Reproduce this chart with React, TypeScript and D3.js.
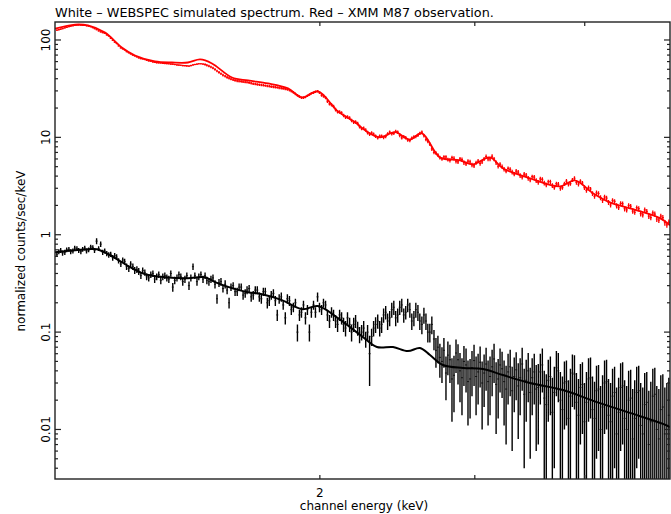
import React from 'react'
import * as d3 from 'd3'

// channel energies (keV), shared by both spectra
const energy = [
  1.005, 1.010, 1.015, 1.020, 1.026, 1.031, 1.037, 1.042, 1.048, 1.053, 1.059, 1.064, 1.070, 1.075, 1.081, 1.086, 1.092, 1.098, 1.104, 1.109,
  1.115, 1.121, 1.127, 1.133, 1.139, 1.145, 1.151, 1.157, 1.163, 1.169, 1.175, 1.181, 1.188, 1.194, 1.200, 1.206, 1.213, 1.219, 1.226, 1.232,
  1.239, 1.245, 1.252, 1.258, 1.265, 1.271, 1.278, 1.285, 1.292, 1.298, 1.305, 1.312, 1.319, 1.326, 1.333, 1.340, 1.347, 1.354, 1.361, 1.368,
  1.376, 1.383, 1.390, 1.397, 1.405, 1.412, 1.420, 1.427, 1.435, 1.442, 1.450, 1.457, 1.465, 1.473, 1.481, 1.488, 1.496, 1.504, 1.512, 1.520,
  1.528, 1.536, 1.544, 1.552, 1.561, 1.569, 1.577, 1.585, 1.594, 1.602, 1.611, 1.619, 1.628, 1.636, 1.645, 1.653, 1.662, 1.671, 1.680, 1.689,
  1.698, 1.707, 1.716, 1.725, 1.734, 1.743, 1.752, 1.761, 1.771, 1.780, 1.789, 1.798, 1.808, 1.817, 1.827, 1.837, 1.847, 1.856, 1.866, 1.876,
  1.886, 1.896, 1.906, 1.916, 1.926, 1.936, 1.946, 1.956, 1.967, 1.977, 1.988, 1.998, 2.009, 2.019, 2.030, 2.040, 2.051, 2.062, 2.073, 2.084,
  2.095, 2.106, 2.117, 2.128, 2.139, 2.150, 2.162, 2.173, 2.185, 2.196, 2.208, 2.219, 2.231, 2.243, 2.255, 2.266, 2.278, 2.290, 2.302, 2.314,
  2.327, 2.339, 2.351, 2.363, 2.376, 2.388, 2.401, 2.414, 2.427, 2.439, 2.452, 2.465, 2.478, 2.491, 2.504, 2.517, 2.531, 2.544, 2.558, 2.571,
  2.585, 2.598, 2.612, 2.626, 2.640, 2.653, 2.667, 2.681, 2.696, 2.710, 2.724, 2.738, 2.753, 2.767, 2.782, 2.796, 2.811, 2.826, 2.841, 2.856,
  2.871, 2.886, 2.901, 2.916, 2.932, 2.947, 2.963, 2.978, 2.994, 3.010, 3.026, 3.042, 3.058, 3.074, 3.090, 3.106, 3.122, 3.139, 3.155, 3.172,
  3.189, 3.205, 3.222, 3.239, 3.256, 3.273, 3.291, 3.308, 3.326, 3.343, 3.361, 3.378, 3.396, 3.414, 3.432, 3.450, 3.468, 3.486, 3.505, 3.523,
  3.542, 3.561, 3.580, 3.598, 3.617, 3.636, 3.656, 3.675, 3.694, 3.714, 3.733, 3.753, 3.773, 3.793, 3.813, 3.833, 3.853, 3.873, 3.894, 3.914,
  3.935, 3.955, 3.976, 3.997, 4.018, 4.040, 4.061, 4.082, 4.104, 4.125, 4.147, 4.169, 4.191, 4.213, 4.235, 4.257, 4.280, 4.302, 4.325, 4.348,
  4.371, 4.394, 4.417, 4.440, 4.464, 4.487, 4.511, 4.535, 4.559, 4.583, 4.607, 4.631, 4.656, 4.680, 4.705, 4.730, 4.755, 4.780, 4.805, 4.830,
  4.856, 4.881, 4.907, 4.933, 4.959, 4.985,
]

// WEBSPEC simulated spectrum (black)
const simCounts = [
  0.63, 0.67, 0.69, 0.65, 0.66, 0.70, 0.71, 0.67, 0.68, 0.73, 0.72, 0.69, 0.67, 0.71, 0.73, 0.68, 0.70, 0.75, 0.74, 0.69,
  0.86, 0.72, 0.80, 0.66, 0.68, 0.64, 0.62, 0.63, 0.58, 0.61, 0.59, 0.54, 0.50, 0.55, 0.53, 0.47, 0.45, 0.50, 0.47, 0.43,
  0.44, 0.42, 0.38, 0.43, 0.41, 0.37, 0.36, 0.39, 0.40, 0.35, 0.37, 0.39, 0.34, 0.37, 0.38, 0.36, 0.35, 0.40, 0.29, 0.34,
  0.36, 0.39, 0.37, 0.33, 0.35, 0.38, 0.30, 0.36, 0.47, 0.38, 0.33, 0.37, 0.39, 0.35, 0.38, 0.34, 0.33, 0.35, 0.36, 0.31,
  0.22, 0.32, 0.33, 0.28, 0.31, 0.27, 0.20, 0.29, 0.30, 0.26, 0.26, 0.29, 0.29, 0.24, 0.25, 0.27, 0.28, 0.23, 0.24, 0.27,
  0.27, 0.23, 0.22, 0.26, 0.26, 0.20, 0.21, 0.24, 0.25, 0.21, 0.15, 0.22, 0.23, 0.19, 0.14, 0.22, 0.21, 0.17, 0.18, 0.20,
  0.10, 0.15, 0.16, 0.19, 0.14, 0.17, 0.10, 0.16, 0.19, 0.16, 0.23, 0.18, 0.17, 0.20, 0.19, 0.15, 0.13, 0.16, 0.15, 0.13,
  0.12, 0.15, 0.14, 0.12, 0.11, 0.14, 0.12, 0.10, 0.12, 0.13, 0.11, 0.095, 0.10, 0.11, 0.085, 0.10, 0.06, 0.09, 0.11, 0.12,
  0.13, 0.11, 0.12, 0.15, 0.16, 0.13, 0.14, 0.17, 0.18, 0.14, 0.15, 0.18, 0.19, 0.15, 0.16, 0.19, 0.17, 0.13, 0.14, 0.17,
  0.16, 0.13, 0.12, 0.15, 0.13, 0.10, 0.10, 0.12, 0.085, 0.065, 0.07, 0.055, 0.05, 0.065, 0.038, 0.058, 0.052, 0.033, 0.036, 0.061,
  0.052, 0.040, 0.034, 0.050, 0.046, 0.031, 0.033, 0.043, 0.051, 0.035, 0.039, 0.049, 0.030, 0.038, 0.047, 0.031, 0.035, 0.044, 0.053, 0.029,
  0.033, 0.046, 0.042, 0.031, 0.026, 0.039, 0.044, 0.025, 0.035, 0.041, 0.028, 0.034, 0.047, 0.023, 0.032, 0.040, 0.024, 0.034, 0.039, 0.026,
  0.027, 0.039, 0.046, 0.021, 0.018, 0.032, 0.035, 0.015, 0.024, 0.043, 0.040, 0.020, 0.016, 0.030, 0.031, 0.013, 0.022, 0.038, 0.037, 0.019,
  0.014, 0.027, 0.029, 0.012, 0.019, 0.033, 0.034, 0.016, 0.013, 0.025, 0.026, 0.010, 0.017, 0.030, 0.031, 0.014, 0.012, 0.022, 0.024, 0.009,
  0.015, 0.027, 0.028, 0.013, 0.010, 0.020, 0.021, 0.008, 0.013, 0.024, 0.025, 0.011, 0.009, 0.018, 0.019, 0.007, 0.012, 0.022, 0.023, 0.010,
  0.008, 0.016, 0.017, 0.009, 0.011, 0.014,
]
const simErr = [
  0.04, 0.04, 0.04, 0.04, 0.04, 0.04, 0.04, 0.04, 0.04, 0.04, 0.04, 0.04, 0.04, 0.04, 0.04, 0.04, 0.04, 0.04, 0.04, 0.04,
  0.06, 0.04, 0.05, 0.04, 0.04, 0.04, 0.04, 0.04, 0.04, 0.04, 0.04, 0.035, 0.035, 0.035, 0.035, 0.035, 0.035, 0.035, 0.035, 0.035,
  0.035, 0.035, 0.03, 0.03, 0.03, 0.03, 0.03, 0.03, 0.03, 0.03, 0.03, 0.03, 0.03, 0.03, 0.03, 0.03, 0.03, 0.03, 0.03, 0.03,
  0.03, 0.03, 0.03, 0.03, 0.03, 0.03, 0.03, 0.03, 0.035, 0.03, 0.03, 0.03, 0.03, 0.03, 0.03, 0.03, 0.03, 0.03, 0.03, 0.03,
  0.025, 0.03, 0.03, 0.025, 0.03, 0.025, 0.025, 0.025, 0.025, 0.025, 0.025, 0.025, 0.025, 0.025, 0.025, 0.025, 0.025, 0.025, 0.025, 0.025,
  0.025, 0.025, 0.025, 0.025, 0.025, 0.025, 0.025, 0.025, 0.025, 0.025, 0.02, 0.025, 0.025, 0.02, 0.02, 0.025, 0.025, 0.02, 0.02, 0.02,
  0.02, 0.02, 0.02, 0.02, 0.02, 0.02, 0.02, 0.02, 0.02, 0.02, 0.025, 0.02, 0.02, 0.02, 0.02, 0.02, 0.02, 0.02, 0.02, 0.02,
  0.02, 0.02, 0.02, 0.02, 0.02, 0.02, 0.02, 0.02, 0.02, 0.02, 0.018, 0.018, 0.018, 0.02, 0.016, 0.018, 0.032, 0.018, 0.02, 0.022,
  0.022, 0.02, 0.022, 0.025, 0.025, 0.025, 0.025, 0.03, 0.03, 0.025, 0.025, 0.03, 0.03, 0.025, 0.025, 0.03, 0.03, 0.025, 0.025, 0.03,
  0.03, 0.025, 0.025, 0.028, 0.025, 0.022, 0.022, 0.025, 0.02, 0.022, 0.022, 0.021, 0.02, 0.022, 0.018, 0.022, 0.022, 0.021, 0.021, 0.023,
  0.023, 0.021, 0.02, 0.022, 0.022, 0.02, 0.02, 0.021, 0.023, 0.021, 0.021, 0.022, 0.02, 0.021, 0.022, 0.02, 0.021, 0.022, 0.023, 0.02,
  0.02, 0.022, 0.021, 0.02, 0.019, 0.021, 0.022, 0.019, 0.02, 0.021, 0.02, 0.02, 0.022, 0.019, 0.02, 0.021, 0.019, 0.02, 0.021, 0.02,
  0.02, 0.021, 0.022, 0.019, 0.019, 0.02, 0.021, 0.019, 0.02, 0.021, 0.021, 0.019, 0.019, 0.02, 0.02, 0.019, 0.02, 0.021, 0.021, 0.019,
  0.019, 0.02, 0.02, 0.018, 0.02, 0.021, 0.021, 0.019, 0.018, 0.02, 0.02, 0.018, 0.019, 0.021, 0.021, 0.019, 0.018, 0.02, 0.02, 0.018,
  0.019, 0.021, 0.021, 0.019, 0.018, 0.02, 0.02, 0.018, 0.019, 0.02, 0.02, 0.019, 0.018, 0.02, 0.02, 0.018, 0.019, 0.02, 0.02, 0.018,
  0.018, 0.02, 0.02, 0.018, 0.019, 0.02,
]
const simModelE = [1.0, 1.026, 1.09, 1.116, 1.161, 1.223, 1.266, 1.334, 1.416, 1.48, 1.52, 1.589, 1.657, 1.719, 1.811, 1.909, 1.99, 2.097, 2.164, 2.239, 2.322, 2.422, 2.518, 2.599, 2.668, 2.76, 2.909, 3.064, 3.228, 3.467, 3.778, 4.13, 4.502, 4.909, 5.0]
const simModelV = [0.662, 0.678, 0.71, 0.71, 0.601, 0.453, 0.393, 0.366, 0.358, 0.366, 0.326, 0.283, 0.257, 0.245, 0.213, 0.172, 0.185, 0.139, 0.1125, 0.0889, 0.0702, 0.0702, 0.0638, 0.0686, 0.0581, 0.0459, 0.0428, 0.0418, 0.0362, 0.03, 0.0254, 0.0191, 0.0148, 0.0114, 0.0106]

// XMM M87 observation (red)
const obsCounts = [
  126, 127.5, 129, 131, 133, 135, 137, 138.5, 140, 141, 142, 142.5, 142, 141.5, 141, 140, 139, 137, 134, 131,
  128, 124, 121, 119, 117, 113, 110, 104, 99, 95, 92, 87, 83, 81, 79, 76, 74, 72, 70, 68.5,
  67, 65.5, 64.5, 64, 63, 62, 61, 60.5, 59.5, 59, 58.5, 58.3, 58, 57.6, 57.5, 57.3, 57, 56.6, 56.5, 56,
  55.5, 55.3, 55, 54.6, 54.5, 54.2, 54, 54.6, 55.5, 56, 56.5, 57, 57, 56.6, 56, 55, 54, 52.8, 51.5, 49.8,
  48, 46.5, 45, 43.6, 42.5, 41.4, 40.5, 39.7, 39, 38.5, 38, 37.8, 37.5, 37.2, 37, 36.8, 36.5, 36, 35.5, 35.3,
  35, 34.7, 34.5, 34.3, 34, 33.7, 33.5, 33.2, 33, 32.8, 32.5, 32.2, 32, 31.7, 31.5, 31, 30.5, 29.8, 29, 28,
  27, 26.2, 25.5, 25.6, 26, 26.8, 27.5, 28.3, 28.8, 29.4, 29.8, 28.7, 27.2, 26.6, 25.6, 23.6, 22.1, 21.6, 20.8, 19.3,
  18.3, 18.2, 17.8, 16.8, 16.1, 16.2, 15.8, 14.9, 14.3, 14.4, 13.9, 12.9, 12.3, 12.4, 11.9, 11.2, 10.8, 11.1, 10.8, 10.3,
  9.9, 10.3, 10.3, 10.0, 10.2, 10.9, 11.3, 10.9, 11.0, 11.5, 11.3, 10.5, 9.9, 10.2, 9.9, 9.4, 9.3, 9.8, 10.1, 10.2,
  10.5, 11.0, 11.3, 10.4, 9.5, 9.1, 8.5, 7.6, 7.0, 6.9, 6.6, 6.2, 6.0, 6.3, 6.3, 5.9, 5.8, 6.2, 6.1, 5.7,
  5.6, 6.0, 5.9, 5.5, 5.35, 5.7, 5.6, 5.2, 5.1, 5.5, 5.7, 5.4, 5.6, 6.0, 6.35, 6.0, 6.0, 6.4, 6.0, 5.5,
  5.05, 5.3, 5.0, 4.7, 4.5, 4.8, 4.7, 4.4, 4.2, 4.5, 4.4, 4.05, 3.9, 4.2, 4.1, 3.8, 3.65, 3.95, 3.9, 3.6,
  3.45, 3.75, 3.7, 3.4, 3.25, 3.5, 3.5, 3.2, 3.05, 3.35, 3.3, 3.0, 3.05, 3.35, 3.55, 3.3, 3.35, 3.65, 3.8, 3.45,
  3.3, 3.55, 3.4, 3.05, 2.85, 3.05, 2.95, 2.65, 2.48, 2.7, 2.65, 2.4, 2.25, 2.45, 2.38, 2.15, 2.02, 2.25, 2.2, 1.98,
  1.9, 2.1, 2.08, 1.85, 1.8, 2.0, 1.96, 1.75, 1.7, 1.9, 1.85, 1.65, 1.6, 1.8, 1.74, 1.55, 1.5, 1.68, 1.63, 1.45,
  1.41, 1.55, 1.5, 1.33, 1.26, 1.35,
]
const obsErr = [
  2.0, 2.0, 2.0, 2.0, 2.0, 2.0, 2.1, 2.1, 2.1, 2.1, 2.1, 2.1, 2.1, 2.1, 2.1, 2.1, 2.1, 2.1, 2.0, 2.0,
  1.9, 1.9, 1.8, 1.8, 1.8, 1.8, 1.7, 1.7, 1.5, 1.5, 1.4, 1.4, 1.3, 1.3, 1.2, 1.2, 1.2, 1.2, 1.0, 1.0,
  1.0, 1.0, 1.0, 1.0, 1.0, 1.0, 1.0, 1.0, 1.0, 1.0, 1.0, 1.0, 1.0, 1.0, 1.0, 1.0, 1.0, 1.0, 1.0, 1.0,
  1.0, 1.0, 1.0, 1.0, 1.0, 1.0, 1.0, 1.0, 1.0, 1.0, 1.0, 1.0, 1.0, 1.0, 1.7, 1.7, 1.6, 1.6, 1.5, 1.5,
  1.4, 1.4, 1.35, 1.35, 1.3, 1.3, 1.2, 1.2, 1.2, 1.2, 1.15, 1.15, 1.1, 1.1, 1.1, 1.1, 1.1, 1.1, 1.05, 1.05,
  1.05, 1.05, 1.0, 1.0, 1.0, 1.0, 1.0, 1.0, 1.0, 1.0, 1.0, 1.0, 0.95, 0.95, 0.95, 0.95, 0.9, 0.9, 0.9, 0.9,
  0.8, 0.8, 0.8, 0.8, 0.8, 0.8, 0.8, 0.8, 0.85, 0.85, 0.9, 0.9, 1.1, 1.1, 1.0, 1.0, 0.9, 0.9, 0.85, 0.85,
  0.75, 0.75, 0.7, 0.7, 0.65, 0.65, 0.63, 0.63, 0.58, 0.58, 0.55, 0.55, 0.5, 0.5, 0.48, 0.48, 0.45, 0.45, 0.43, 0.43,
  0.4, 0.4, 0.41, 0.41, 0.41, 0.41, 0.45, 0.45, 0.44, 0.44, 0.45, 0.45, 0.4, 0.4, 0.4, 0.4, 0.38, 0.38, 0.4, 0.4,
  0.42, 0.42, 0.45, 0.45, 0.38, 0.38, 0.34, 0.34, 0.29, 0.29, 0.27, 0.27, 0.25, 0.25, 0.26, 0.26, 0.29, 0.29, 0.3, 0.3,
  0.28, 0.28, 0.3, 0.3, 0.27, 0.27, 0.28, 0.28, 0.26, 0.26, 0.29, 0.29, 0.28, 0.28, 0.32, 0.32, 0.3, 0.3, 0.3, 0.3,
  0.26, 0.26, 0.25, 0.25, 0.23, 0.23, 0.24, 0.24, 0.22, 0.22, 0.22, 0.22, 0.2, 0.2, 0.21, 0.21, 0.19, 0.19, 0.2, 0.2,
  0.18, 0.18, 0.19, 0.19, 0.17, 0.17, 0.18, 0.18, 0.16, 0.16, 0.17, 0.17, 0.16, 0.16, 0.18, 0.18, 0.17, 0.17, 0.19, 0.19,
  0.17, 0.17, 0.17, 0.17, 0.15, 0.15, 0.15, 0.15, 0.14, 0.14, 0.14, 0.14, 0.13, 0.13, 0.13, 0.13, 0.12, 0.12, 0.12, 0.12,
  0.11, 0.11, 0.12, 0.12, 0.11, 0.11, 0.11, 0.11, 0.1, 0.1, 0.11, 0.11, 0.1, 0.1, 0.1, 0.1, 0.09, 0.09, 0.1, 0.1,
  0.09, 0.09, 0.09, 0.09, 0.08, 0.08,
]
const obsModelE = [1.0, 1.054, 1.09, 1.14, 1.191, 1.233, 1.299, 1.358, 1.416, 1.462, 1.508, 1.589, 1.657, 1.746, 1.84, 1.909, 1.99, 2.097, 2.193, 2.251, 2.341, 2.434, 2.531, 2.612, 2.738, 2.886, 2.985, 3.122, 3.228, 3.44, 3.749, 3.898, 4.087, 4.273, 4.538, 4.87, 5.0]
const obsModelV = [131, 144, 141, 119, 83.8, 69.3, 60.2, 58.7, 58.7, 63.1, 57.4, 41.2, 38.4, 35.8, 31.8, 25.7, 29.6, 18.5, 14.3, 11.8, 10.0, 11.3, 9.5, 11.0, 6.23, 5.81, 5.28, 6.23, 4.81, 3.89, 3.14, 3.62, 2.67, 2.15, 1.83, 1.48, 1.25]

const yTickValues = [0.01, 0.1, 1, 10, 100]
const yTickLabels = ['0.01', '0.1', '1', '10', '100']
const xTickValues = [2, 3, 4]
const xTickLabels = ['2', '', '']

const title = 'White \u2013 WEBSPEC simulated spectrum. Red \u2013 XMM M87 observation.'

const W = 671
const H = 514
const left = 55, right = 670, top = 22, bottom = 479
const font = 'DejaVu Sans, sans-serif'

export default function App() {
  const x = d3.scaleLog().domain([1, 5]).range([left, right])
  const y = d3.scaleLog().domain([0.0031, 153]).range([bottom, top])

  function binEdges(i: number) {
    const n = energy.length
    const lo = i > 0 ? Math.sqrt(energy[i - 1] * energy[i]) : energy[0] / Math.sqrt(energy[1] / energy[0])
    const hi = i < n - 1 ? Math.sqrt(energy[i] * energy[i + 1]) : energy[n - 1] * Math.sqrt(energy[n - 1] / energy[n - 2])
    return [lo, hi]
  }

  // vertical error bars and horizontal bin widths, as two path strings
  function barPaths(vals: number[], errs: number[]) {
    let v = ''
    let h = ''
    const n = Math.min(energy.length, vals.length, errs.length)
    for (let i = 0; i < n; i++) {
      const e = energy[i]
      const lo = Math.max(vals[i] - errs[i], 1e-4)
      const hi = vals[i] + errs[i]
      const [el, eh] = binEdges(i)
      v += `M${x(e).toFixed(2)},${y(lo).toFixed(2)}V${y(hi).toFixed(2)}`
      h += `M${x(el).toFixed(2)},${y(vals[i]).toFixed(2)}H${x(eh).toFixed(2)}`
    }
    return { v, h }
  }

  const modelLine = d3.line<[number, number]>()
    .x(d => x(d[0]))
    .y(d => y(d[1]))
    .curve(d3.curveCatmullRom.alpha(0.5))

  const sim = barPaths(simCounts, simErr)
  const obs = barPaths(obsCounts, obsErr)
  const simModel = modelLine(simModelE.map((e, i) => [e, simModelV[i]] as [number, number])) || ''
  const obsModel = modelLine(obsModelE.map((e, i) => [e, obsModelV[i]] as [number, number])) || ''

  const yTicks = y.ticks()

  return (
    <svg width={W} height={H} style={{ position: 'absolute', left: 0, top: 0, background: '#fff' }}>
      <defs>
        <clipPath id="plot">
          <rect x={left} y={top} width={right - left} height={bottom - top} />
        </clipPath>
      </defs>
      <rect x={0} y={0} width={W} height={H} fill="#fff" />

      <g clipPath="url(#plot)">
        <path d={sim.v} stroke="#000" strokeWidth={1.4} fill="none" />
        <path d={sim.h} stroke="#111" strokeWidth={1} fill="none" />
        <path d={simModel} stroke="#000" strokeWidth={2} fill="none" />
        <path d={obs.v} stroke="#ff0000" strokeWidth={1.3} fill="none" />
        <path d={obs.h} stroke="#ff0000" strokeWidth={1.2} fill="none" />
        <path d={obsModel} stroke="#ff0000" strokeWidth={1.8} fill="none" />
      </g>

      <rect x={left} y={top} width={right - left} height={bottom - top} fill="none" stroke="#222" strokeWidth={1.4} />

      {yTicks.map((t, i) => {
        const major = yTickValues.some(v => Math.abs(Math.log10(v) - Math.log10(t)) < 1e-6)
        const len = major ? 6 : 3
        const yy = y(t)
        return (
          <g key={'yt' + i} stroke="#222" strokeWidth={1.2}>
            <line x1={left} x2={left + len} y1={yy} y2={yy} />
            <line x1={right} x2={right - len} y1={yy} y2={yy} />
          </g>
        )
      })}
      {xTickValues.map((t, i) => (
        <g key={'xt' + i} stroke="#222" strokeWidth={1.2}>
          <line x1={x(t)} x2={x(t)} y1={bottom} y2={bottom - 4} />
          <line x1={x(t)} x2={x(t)} y1={top} y2={top + 4} />
        </g>
      ))}

      {yTickValues.map((t, i) => (
        <text key={'yl' + i} transform={`translate(50,${y(t)}) rotate(-90)`} textAnchor="middle"
          fontFamily={font} fontSize={12} fill="#000">{yTickLabels[i]}</text>
      ))}
      {xTickValues.map((t, i) => (
        <text key={'xl' + i} x={x(t)} y={497} textAnchor="middle" fontFamily={font} fontSize={12} fill="#000">{xTickLabels[i]}</text>
      ))}

      <text x={left} y={17} fontFamily={font} fontSize={12.8} fill="#000">{title}</text>
      <text x={364} y={510} textAnchor="middle" fontFamily={font} fontSize={12} fill="#000">channel energy (keV)</text>
      <text transform="translate(25,251) rotate(-90)" textAnchor="middle" fontFamily={font} fontSize={12} fill="#000">normalized counts/sec/keV</text>
    </svg>
  )
}
